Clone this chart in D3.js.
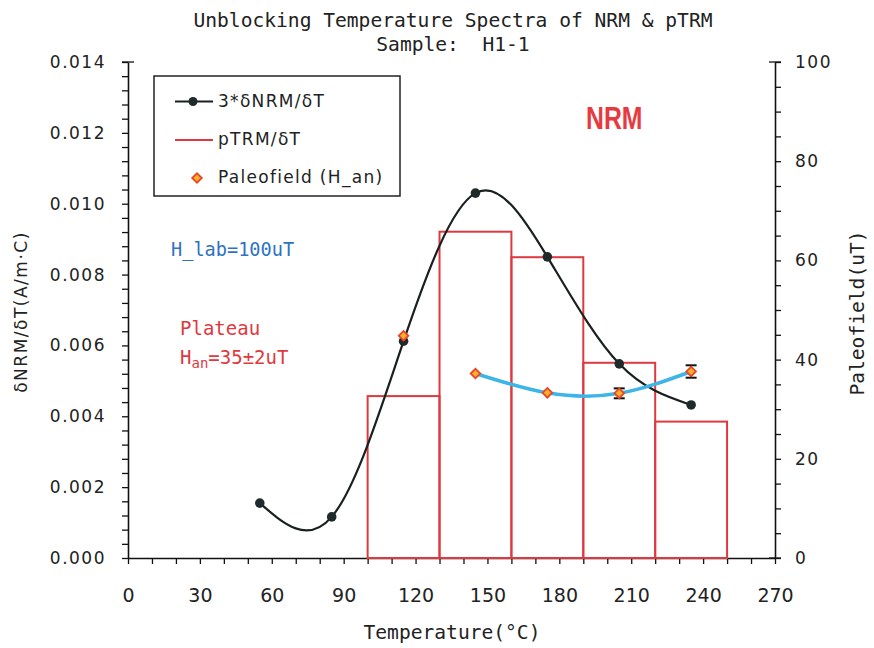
<!DOCTYPE html>
<html>
<head>
<meta charset="utf-8">
<script src="https://cdn.jsdelivr.net/npm/d3@7"></script>
<style>
  html, body { margin: 0; padding: 0; background: #ffffff; }
  svg { display: block; }
</style>
</head>
<body>
<svg id="chart" width="874" height="648"></svg>
<script>
// ---------------- data ----------------
const nrmTemps = [55, 85, 115, 145, 175, 205, 235];
const nrmValues = [0.00155, 0.00116, 0.00612, 0.0103, 0.0085, 0.00548, 0.00432]; // 3*dNRM/dT
const binStart = [100, 130, 160, 190, 220];
const binEnd = [130, 160, 190, 220, 250];
const ptrmValues = [0.00457, 0.00921, 0.00849, 0.00551, 0.00385]; // pTRM/dT
const paleoTemps = [115, 145, 175, 205, 235];
const paleoValues = [44.8, 37.2, 33.3, 33.2, 37.6]; // uT
const paleoErrors = [0, 0, 0, 1.0, 1.25];
const plateauTemps = [145, 175, 205, 235];
const plateauValues = [37.2, 33.3, 33.2, 37.6];
const xTickValues = [0, 30, 60, 90, 120, 150, 180, 210, 240, 270];
const yLeftTickValues = [0, 0.002, 0.004, 0.006, 0.008, 0.010, 0.012, 0.014];
const yRightTickValues = [0, 20, 40, 60, 80, 100];

// ---------------- layout ----------------
const svg = d3.select("#chart");
const L = 128, R = 775, T = 62, B = 558;
const x = d3.scaleLinear().domain([0, 270]).range([L, R]);
const yL = d3.scaleLinear().domain([0, 0.014]).range([B, T]);
const yR = d3.scaleLinear().domain([0, 100]).range([B, T]);

const MONO = "'DejaVu Sans Mono', 'Liberation Mono', monospace";
const SANS = "'DejaVu Sans', Verdana, sans-serif";
const RED = "#e0383f";
const BARRED = "#dd3a40";

// ---------------- titles ----------------
svg.append("text").attr("x", 453).attr("y", 27).attr("text-anchor", "middle")
  .style("font-family", MONO).style("font-size", "19.6px").attr("fill", "#222")
  .text("Unblocking Temperature Spectra of NRM & pTRM");
svg.append("text").attr("x", 453).attr("y", 51).attr("text-anchor", "middle")
  .attr("xml:space", "preserve").style("white-space", "pre")
  .style("font-family", MONO).style("font-size", "19.6px").attr("fill", "#222")
  .text("Sample:  H1-1");

// ---------------- axes ----------------
function styleAxis(g) {
  g.select(".domain").attr("stroke", "#111").attr("stroke-width", 1.6);
  g.selectAll(".tick line").attr("stroke", "#111").attr("stroke-width", 1.3);
}

// bottom axis (minor every 10, labels every 30)
const xAxis = svg.append("g").attr("transform", `translate(0,${B})`)
  .call(d3.axisBottom(x).tickValues(d3.range(0, 271, 10))
    .tickFormat(d => xTickValues.includes(d) ? d : "").tickSize(6).tickSizeOuter(0));
styleAxis(xAxis);
xAxis.selectAll(".tick text").attr("y", 44).attr("dy", null)
  .style("font-family", SANS).style("font-size", "19px").attr("fill", "#222");

// left axis
const yLeftMinor = d3.range(0, 0.01401, 0.0004);
const yAxisL = svg.append("g").attr("transform", `translate(${L},0)`)
  .call(d3.axisLeft(yL).tickValues(yLeftMinor.map(v => +v.toFixed(5)))
    .tickFormat(d => yLeftTickValues.some(v => Math.abs(v - d) < 1e-9) ? d3.format(".3f")(d) : "")
    .tickSize(6).tickSizeOuter(0));
styleAxis(yAxisL);
yAxisL.selectAll(".tick text").attr("x", -22)
  .style("font-family", SANS).style("font-size", "17px").style("letter-spacing", "1.5px").attr("fill", "#222");

// right axis
const yAxisR = svg.append("g").attr("transform", `translate(${R},0)`)
  .call(d3.axisRight(yR).tickValues(d3.range(0, 101, 5))
    .tickFormat(d => yRightTickValues.includes(d) ? d : "").tickSize(6).tickSizeOuter(0));
styleAxis(yAxisR);
yAxisR.selectAll(".tick text").attr("x", 20)
  .style("font-family", SANS).style("font-size", "17px").style("letter-spacing", "1.5px").attr("fill", "#222");

// small caps at axis tops
svg.append("line").attr("x1", L - 6).attr("x2", L + 6).attr("y1", yL(0.014)).attr("y2", yL(0.014))
  .attr("stroke", "#111").attr("stroke-width", 1.3);
svg.append("line").attr("x1", R - 6).attr("x2", R + 6).attr("y1", yR(100)).attr("y2", yR(100))
  .attr("stroke", "#111").attr("stroke-width", 1.3);
svg.append("line").attr("x1", R - 6).attr("x2", R + 6).attr("y1", yR(0)).attr("y2", yR(0))
  .attr("stroke", "#111").attr("stroke-width", 1.3);

// axis titles
svg.append("text").attr("x", 452).attr("y", 639).attr("text-anchor", "middle")
  .style("font-family", MONO).style("font-size", "19.6px").attr("fill", "#222")
  .text("Temperature(°C)");
svg.append("text").attr("transform", "translate(27,312) rotate(-90)").attr("text-anchor", "middle")
  .style("font-family", SANS).style("font-size", "17px").style("letter-spacing", "1.5px").attr("fill", "#222")
  .text("δNRM/δT(A/m·C)");
svg.append("text").attr("transform", "translate(864,313) rotate(-90)").attr("text-anchor", "middle")
  .style("font-family", MONO).style("font-size", "19.6px").attr("fill", "#222")
  .text("Paleofield(uT)");

// ---------------- pTRM bars ----------------
svg.append("g").selectAll("rect").data(ptrmValues).join("rect")
  .attr("x", (d, i) => x(binStart[i]))
  .attr("width", (d, i) => x(binEnd[i]) - x(binStart[i]))
  .attr("y", d => yL(d))
  .attr("height", d => yL(0) - yL(d))
  .attr("fill", "none").attr("stroke", BARRED).attr("stroke-width", 2);

// ---------------- NRM curve ----------------
const nrmData = nrmTemps.map((t, i) => [t, nrmValues[i]]);
svg.append("path").datum(nrmData)
  .attr("d", d3.line().x(d => x(d[0])).y(d => yL(d[1])).curve(d3.curveNatural))
  .attr("fill", "none").attr("stroke", "#1a1f1f").attr("stroke-width", 2.2);
svg.append("g").selectAll("circle").data(nrmData).join("circle")
  .attr("cx", d => x(d[0])).attr("cy", d => yL(d[1])).attr("r", 4.8)
  .attr("fill", "#1f2b2b");

// ---------------- paleofield ----------------
const plateauData = plateauTemps.map((t, i) => [t, plateauValues[i]]);
svg.append("path").datum(plateauData)
  .attr("d", d3.line().x(d => x(d[0])).y(d => yR(d[1])).curve(d3.curveNatural))
  .attr("fill", "none").attr("stroke", "#3db5e6").attr("stroke-width", 3.5);

const paleoData = paleoTemps.map((t, i) => ({ t, v: paleoValues[i], e: paleoErrors[i] }));
const eb = svg.append("g");
paleoData.filter(d => d.e > 0).forEach(d => {
  const cx = x(d.t), y1 = yR(d.v + d.e), y2 = yR(d.v - d.e);
  eb.append("line").attr("x1", cx).attr("x2", cx).attr("y1", y1).attr("y2", y2).attr("stroke", "#111").attr("stroke-width", 1.5);
  eb.append("line").attr("x1", cx - 5.5).attr("x2", cx + 5.5).attr("y1", y1).attr("y2", y1).attr("stroke", "#111").attr("stroke-width", 2);
  eb.append("line").attr("x1", cx - 5.5).attr("x2", cx + 5.5).attr("y1", y2).attr("y2", y2).attr("stroke", "#111").attr("stroke-width", 2);
});
const diamond = d3.symbol().type(d3.symbolSquare).size(46);
svg.append("g").selectAll("path").data(paleoData).join("path")
  .attr("d", diamond)
  .attr("transform", d => `translate(${x(d.t)},${yR(d.v)}) rotate(45)`)
  .attr("fill", "#f9b027").attr("stroke", "#e8452c").attr("stroke-width", 1.8);

// ---------------- legend ----------------
const lg = svg.append("g");
lg.append("rect").attr("x", 154).attr("y", 76).attr("width", 246).attr("height", 120)
  .attr("fill", "#fff").attr("stroke", "#222").attr("stroke-width", 1.5);
lg.append("line").attr("x1", 175).attr("x2", 213).attr("y1", 101.5).attr("y2", 101.5).attr("stroke", "#1a1f1f").attr("stroke-width", 2);
lg.append("circle").attr("cx", 193).attr("cy", 101.5).attr("r", 4.5).attr("fill", "#1f2b2b");
lg.append("line").attr("x1", 175).attr("x2", 213).attr("y1", 140).attr("y2", 140).attr("stroke", BARRED).attr("stroke-width", 2);
lg.append("path").attr("d", diamond).attr("transform", "translate(197,178) rotate(45)")
  .attr("fill", "#f9b027").attr("stroke", "#e8452c").attr("stroke-width", 1.8);
const legendLabels = ["3*δNRM/δT", "pTRM/δT", "Paleofield (H_an)"];
const legendBase = [107, 145, 183];
lg.selectAll("text.lab").data(legendLabels).join("text").attr("class", "lab")
  .attr("x", 218).attr("y", (d, i) => legendBase[i])
  .style("font-family", SANS).style("font-size", "17px").style("letter-spacing", "1.3px").attr("fill", "#222")
  .text(d => d);

// ---------------- annotations ----------------
svg.append("text").attr("transform", "translate(586,129) scale(0.8,1)")
  .style("font-family", "'Liberation Sans', Arial, sans-serif").style("font-weight", "bold")
  .style("font-size", "31px").attr("fill", "#e63a40").text("NRM");
svg.append("text").attr("x", 171).attr("y", 256)
  .style("font-family", MONO).style("font-size", "18.6px").attr("fill", "#2e72c4").text("H_lab=100uT");
svg.append("text").attr("x", 180).attr("y", 335)
  .style("font-family", MONO).style("font-size", "19px").attr("fill", RED).text("Plateau");
const han = svg.append("text").attr("x", 180).attr("y", 364)
  .style("font-family", MONO).style("font-size", "19px").attr("fill", RED);
han.append("tspan").text("H");
han.append("tspan").attr("dy", 4).style("font-size", "14px").text("an");
han.append("tspan").attr("dy", -4).text("=35±2uT");
</script>
</body>
</html>
